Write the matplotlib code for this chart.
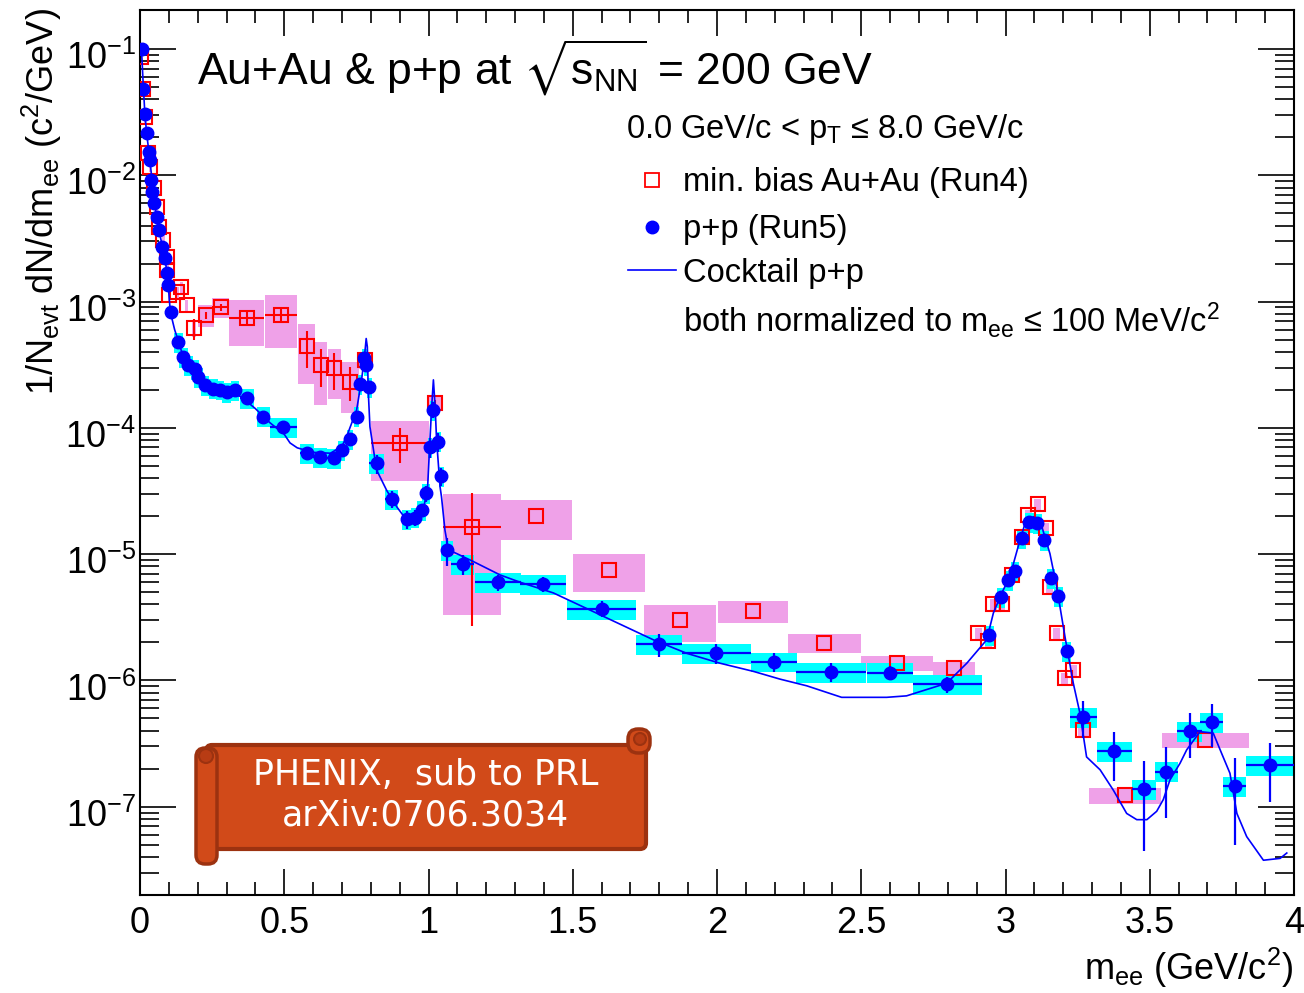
import numpy as np
import matplotlib
matplotlib.use("Agg")
import matplotlib.pyplot as plt
from matplotlib.patches import FancyBboxPatch, Circle
from matplotlib.lines import Line2D
from matplotlib.transforms import ScaledTranslation
from matplotlib.ticker import (FixedLocator, MultipleLocator, FuncFormatter,
                               NullFormatter)

plt.rcParams['font.family'] = ['Liberation Sans', 'DejaVu Sans']
plt.rcParams['mathtext.fontset'] = 'custom'
plt.rcParams['mathtext.rm'] = 'Liberation Sans'
plt.rcParams['mathtext.it'] = 'Liberation Sans:italic'
plt.rcParams['mathtext.bf'] = 'Liberation Sans:bold'
plt.rcParams['mathtext.sf'] = 'Liberation Sans'
plt.rcParams['mathtext.fallback'] = 'stixsans'

# ---------------- p+p (Run5) ----------------
pp_mass = [0.006, 0.012, 0.017, 0.023, 0.031, 0.035, 0.037, 0.043, 0.049, 0.058,
           0.065, 0.075, 0.087, 0.095, 0.098, 0.106, 0.133, 0.150, 0.168, 0.191,
           0.202, 0.225, 0.254, 0.277, 0.300, 0.329, 0.370, 0.427, 0.497, 0.578,
           0.624, 0.672, 0.699, 0.728, 0.751, 0.763, 0.778, 0.784, 0.795, 0.820,
           0.872, 0.924, 0.953, 0.976, 0.991, 1.005, 1.014, 1.034, 1.045, 1.065,
           1.118, 1.240, 1.396, 1.600, 1.800, 1.997, 2.198, 2.395, 2.600, 2.798,
           2.944, 2.985, 3.010, 3.033, 3.056, 3.083, 3.110, 3.135, 3.158, 3.183,
           3.212, 3.270, 3.377, 3.480, 3.557, 3.638, 3.715, 3.794, 3.917]
pp_yield = [1.00e-1, 4.8e-2, 3.06e-2, 2.17e-2, 1.53e-2, 1.32e-2, 9.1e-3, 7.4e-3, 6.0e-3, 4.7e-3,
            3.67e-3, 2.7e-3, 2.2e-3, 1.67e-3, 1.35e-3, 8.3e-4, 4.8e-4, 3.65e-4, 3.13e-4, 2.9e-4,
            2.53e-4, 2.17e-4, 2.05e-4, 2.01e-4, 1.93e-4, 1.98e-4, 1.72e-4, 1.23e-4, 1.02e-4, 6.3e-5,
            5.9e-5, 5.74e-5, 6.65e-5, 8.1e-5, 1.23e-4, 2.22e-4, 3.55e-4, 3.13e-4, 2.09e-4, 5.25e-5,
            2.73e-5, 1.89e-5, 1.95e-5, 2.24e-5, 3.03e-5, 7.07e-5, 1.39e-4, 7.8e-5, 4.13e-5, 1.07e-5,
            8.3e-6, 6.0e-6, 5.8e-6, 3.7e-6, 1.94e-6, 1.66e-6, 1.41e-6, 1.165e-6, 1.155e-6, 9.3e-7,
            2.29e-6, 4.57e-6, 6.27e-6, 7.4e-6, 1.34e-5, 1.81e-5, 1.76e-5, 1.3e-5, 6.45e-6, 4.67e-6,
            1.72e-6, 5.17e-7, 2.76e-7, 1.38e-7, 1.9e-7, 4.0e-7, 4.72e-7, 1.46e-7, 2.15e-7]
pp_stat = [3e-3, 1.5e-3, 1.0e-3, 7e-4, 5e-4, 4e-4, 3e-4, 2.5e-4, 2e-4, 1.5e-4,
           1.2e-4, 1.0e-4, 8e-5, 6e-5, 5e-5, 4e-5, 3e-5, 2.5e-5, 2e-5, 2e-5,
           1.8e-5, 1.6e-5, 1.5e-5, 1.5e-5, 1.5e-5, 1.5e-5, 1.4e-5, 1.1e-5, 9e-6, 6e-6,
           6e-6, 6e-6, 6e-6, 7e-6, 1.1e-5, 2e-5, 3e-5, 3e-5, 2e-5, 9e-6,
           4.2e-6, 3.2e-6, 2.7e-6, 2.7e-6, 4.2e-6, 1.3e-5, 2e-5, 1.3e-5, 6.5e-6, 2.7e-6,
           1.5e-6, 8.5e-7, 7.5e-7, 5.4e-7, 4.1e-7, 3.0e-7, 2.4e-7, 2.0e-7, 1.4e-7, 1.3e-7,
           2e-7, 3e-7, 4e-7, 5e-7, 8e-7, 1.0e-6, 1.0e-6, 8e-7, 4.5e-7, 3.5e-7,
           2e-7, 1.7e-7, 1.15e-7, 9.3e-8, 1.08e-7, 1.57e-7, 1.73e-7, 9.6e-8, 1.05e-7]
pp_halfwidth = [0.004] * 16 + [0.015] * 10 + [0.025, 0.023, 0.047, 0.025, 0.025, 0.025,
                0.012, 0.012] + [0.008] * 5 + [0.025, 0.023] + [0.015] * 4 + [0.008] * 4 + \
               [0.02, 0.04, 0.08, 0.08, 0.12, 0.08, 0.12, 0.08, 0.12, 0.08, 0.12] + \
               [0.015] * 11 + [0.046, 0.06, 0.042, 0.04, 0.042, 0.04, 0.04, 0.083]
pp_sys_rel = [0.10] * 16 + [0.18] * 63

# ---------------- min. bias Au+Au (Run4) ----------------
auau_mass = [0.004, 0.012, 0.017, 0.029, 0.035, 0.049, 0.058, 0.067, 0.081, 0.092,
             0.095, 0.100, 0.128, 0.143, 0.162, 0.187, 0.229, 0.280, 0.370, 0.490,
             0.578, 0.626, 0.674, 0.728, 0.780, 0.900, 1.023, 1.150, 1.373, 1.626,
             1.872, 2.124, 2.372, 2.623, 2.822, 2.906, 2.940, 2.958, 2.987, 3.021,
             3.056, 3.079, 3.111, 3.140, 3.154, 3.177, 3.206, 3.235, 3.270, 3.415, 3.693]
auau_yield = [8.6e-2, 4.8e-2, 2.9e-2, 1.49e-2, 1.17e-2, 7.9e-3, 5.65e-3, 3.9e-3, 3.06e-3, 2.27e-3,
              1.78e-3, 1.13e-3, 1.19e-3, 1.3e-3, 9.4e-4, 6.14e-4, 7.8e-4, 9.0e-4, 7.4e-4, 7.8e-4,
              4.45e-4, 3.14e-4, 2.96e-4, 2.32e-4, 3.45e-4, 7.6e-5, 1.57e-4, 1.65e-5, 2.0e-5, 7.5e-6,
              3.0e-6, 3.57e-6, 1.99e-6, 1.37e-6, 1.26e-6, 2.37e-6, 2.05e-6, 4.05e-6, 4.05e-6, 6.85e-6,
              1.37e-5, 2.04e-5, 2.5e-5, 1.61e-5, 5.46e-6, 2.37e-6, 1.04e-6, 1.21e-6, 4.05e-7, 1.23e-7,
              3.37e-7]
auau_stat = [0.0] * 15 + [1.2e-4, 5e-5, 5e-5, 1.0e-4, 1.0e-4, 1.45e-4, 1.05e-4, 9.5e-5, 7e-5,
             3e-5, 2.3e-5, 1e-5, 1.38e-5] + [0.0] * 23
auau_xerr = [0.0] * 17 + [0.03, 0.06, 0.055] + [0.0] * 5 + [0.1, 0.0, 0.1] + [0.0] * 23
auau_box_halfwidth = [0.004] * 12 + [0.006] * 4 + \
                     [0.029, 0.03, 0.06, 0.055, 0.029, 0.023, 0.024, 0.03, 0.02, 0.1,
                      0.025, 0.1, 0.124, 0.126, 0.124, 0.122, 0.127, 0.124, 0.074] + \
                     [0.012] * 13 + [0.02, 0.125, 0.15]
auau_sys_rel = [0.10] * 15 + [0.15, 0.2, 0.18, 0.4, 0.45, 0.5, 0.52, 0.43, 0.43, 0.15,
                0.5, 0.13, 0.8, 0.35, 0.33, 0.33, 0.2, 0.17, 0.14, 0.12] + \
               [0.10] * 13 + [0.10, 0.15, 0.13]

# ---------------- hadronic cocktail for p+p ----------------
cocktail_mass = [0.005, 0.012, 0.017, 0.023, 0.035, 0.050, 0.065, 0.080, 0.095, 0.105,
                 0.120, 0.135, 0.150, 0.170, 0.200, 0.250, 0.300, 0.350, 0.400, 0.450,
                 0.500, 0.520, 0.545, 0.600, 0.660, 0.700, 0.716, 0.751, 0.768, 0.778,
                 0.784, 0.788, 0.791, 0.797, 0.820, 0.855, 0.890, 0.924, 0.959, 0.982,
                 0.997, 1.005, 1.011, 1.017, 1.023, 1.028, 1.040, 1.045, 1.057, 1.069,
                 1.098, 1.155, 1.248, 1.317, 1.433, 1.606, 1.779, 1.895, 2.010, 2.126,
                 2.218, 2.311, 2.432, 2.588, 2.657, 2.796, 2.866, 2.935, 2.958, 2.987,
                 3.015, 3.044, 3.068, 3.097, 3.126, 3.154, 3.177, 3.206, 3.235, 3.258,
                 3.281, 3.328, 3.374, 3.420, 3.455, 3.490, 3.524, 3.547, 3.570, 3.605,
                 3.628, 3.674, 3.720, 3.749, 3.778, 3.802, 3.836, 3.894, 3.952, 3.975]
cocktail_yield = [1.01e-1, 4.8e-2, 3.06e-2, 2.15e-2, 1.28e-2, 6.0e-3, 3.7e-3, 2.6e-3, 1.65e-3, 8.3e-4,
                  6.0e-4, 4.7e-4, 3.65e-4, 3.02e-4, 2.5e-4, 2.08e-4, 1.93e-4, 1.77e-4, 1.42e-4, 1.1e-4,
                  8.9e-5, 7.6e-5, 6.95e-5, 6.4e-5, 6.3e-5, 7.15e-5, 8.5e-5, 1.39e-4, 2.4e-4, 3.65e-4,
                  5.1e-4, 4.38e-4, 1.99e-4, 1.02e-4, 4.65e-5, 3.2e-5, 2.37e-5, 1.86e-5, 1.91e-5, 2.23e-5,
                  3.42e-5, 8.0e-5, 1.47e-4, 2.4e-4, 1.47e-4, 8.0e-5, 3.42e-5, 2.85e-5, 1.55e-5, 1.08e-5,
                  1.01e-5, 8.75e-6, 6.85e-6, 6.0e-6, 4.93e-6, 3.22e-6, 2.1e-6, 1.64e-6, 1.37e-6, 1.18e-6,
                  1.025e-6, 9.07e-7, 7.35e-7, 7.35e-7, 7.55e-7, 9.5e-7, 1.37e-6, 2.1e-6, 3.42e-6, 4.92e-6,
                  6.65e-6, 1.15e-5, 1.76e-5, 1.98e-5, 1.65e-5, 1.01e-5, 5.57e-6, 2.23e-6, 9.5e-7, 5.5e-7,
                  2.48e-7, 1.96e-7, 1.35e-7, 8.85e-8, 7.9e-8, 7.9e-8, 9.2e-8, 1.14e-7, 1.63e-7, 2.21e-7,
                  2.82e-7, 3.93e-7, 3.83e-7, 2.65e-7, 1.84e-7, 8.85e-8, 5.8e-8, 3.77e-8, 3.9e-8, 4.3e-8]

x_ticks = [0, 0.5, 1, 1.5, 2, 2.5, 3, 3.5, 4]
y_decades = [1e-7, 1e-6, 1e-5, 1e-4, 1e-3, 1e-2, 1e-1]

# ---------------- figure ----------------
W, H = 1304, 993
fig = plt.figure(figsize=(W / 100, H / 100), dpi=100)
fig.patch.set_facecolor('white')
ax = fig.add_axes([140 / W, 1 - 895 / H, 1154 / W, 885 / H])

pink = '#EFA1E8'
cyan = '#00FFFF'

pm, py_, pe = np.array(pp_mass), np.array(pp_yield), np.array(pp_stat)
phw, psr = np.array(pp_halfwidth), np.array(pp_sys_rel)
am, ay, ae = np.array(auau_mass), np.array(auau_yield), np.array(auau_stat)
ax_err, ahw, asr = np.array(auau_xerr), np.array(auau_box_halfwidth), np.array(auau_sys_rel)

# systematic boxes
ax.bar(am, 2 * asr * ay, bottom=ay * (1 - asr), width=2 * ahw, color=pink,
       linewidth=0, zorder=1)
ax.bar(pm, 2 * psr * py_, bottom=py_ * (1 - psr), width=2 * phw, color=cyan,
       linewidth=0, zorder=2)

# Au+Au points
ax.errorbar(am, ay, xerr=ax_err, yerr=ae, fmt='none', ecolor='#FF0000',
            elinewidth=1.5, capsize=0, zorder=3)
ax.plot(am, ay, 's', mfc='none', mec='#FF0000', ms=10.5, mew=1.5, zorder=3)

# cocktail
ax.plot(cocktail_mass, cocktail_yield, color='#0000FF', lw=1.2, zorder=4)

# p+p points
ax.errorbar(pm, py_, xerr=phw, yerr=pe, fmt='none', ecolor='#0000FF',
            elinewidth=1.6, capsize=0, zorder=5)
ax.plot(pm, py_, 'o', color='#0000FF', ms=9, mec='#0000FF', zorder=6)

# axes styling
ax.set_yscale('log')
ax.set_xlim(0, 4)
ax.set_ylim(2.0e-8, 0.2037)
ax.xaxis.set_major_locator(FixedLocator(x_ticks))
ax.xaxis.set_minor_locator(MultipleLocator(0.1))
ax.xaxis.set_major_formatter(FuncFormatter(lambda v, p: f'{v:g}'))
minor_y = [m * d for d in [1e-8] + y_decades[:-1] for m in range(2, 10)
           if 2.0e-8 <= m * d <= 0.2037]
ax.yaxis.set_major_locator(FixedLocator(y_decades))
ax.yaxis.set_minor_locator(FixedLocator(minor_y))
ax.yaxis.set_minor_formatter(NullFormatter())
ax.yaxis.set_major_formatter(
    FuncFormatter(lambda v, p: rf'$10^{{{int(round(np.log10(v)))}}}$'))
ax.tick_params(which='both', direction='in', top=True, right=True, color='black')
ax.tick_params(axis='x', which='major', length=19, width=1.2, labelsize=26, pad=8)
ax.tick_params(axis='x', which='minor', length=9.5, width=1.2)
ax.tick_params(axis='y', which='major', length=26, width=1.2, labelsize=26, pad=3)
ax.tick_params(axis='y', which='minor', length=14, width=1.2)
for s in ax.spines.values():
    s.set_linewidth(1.5)
shift = ScaledTranslation(0, -6 / 100, fig.dpi_scale_trans)
for lab in ax.get_yticklabels():
    lab.set_transform(lab.get_transform() + shift)

# ---------------- overlay in pixel coordinates ----------------
ov = fig.add_axes([0, 0, 1, 1], zorder=10)
ov.set_xlim(0, W)
ov.set_ylim(H, 0)
ov.axis('off')
ov.patch.set_alpha(0)

ov.text(197, 85, r'Au+Au & p+p at $\sqrt{{\rm s}_{\rm NN}}$ = 200 GeV', fontsize=32,
        ha='left', va='baseline')
leg_fs = 23.5
ov.text(626, 138, r'0.0 GeV/c < p$_{\rm T}$ ≤ 8.0 GeV/c', fontsize=leg_fs,
        ha='left', va='baseline')
ov.add_line(Line2D([652], [180], marker='s', mfc='none', mec='#FF0000', ms=10, mew=1.3))
ov.text(683, 191, 'min. bias Au+Au (Run4)', fontsize=leg_fs, ha='left', va='baseline')
ov.add_line(Line2D([652], [227], marker='o', color='#0000FF', ms=9))
ov.text(683, 238, 'p+p (Run5)', fontsize=leg_fs, ha='left', va='baseline')
ov.add_line(Line2D([628, 676], [270, 270], color='#0000FF', lw=1.2))
ov.text(683, 282, 'Cocktail p+p', fontsize=leg_fs, ha='left', va='baseline')
ov.text(683, 332, r'both normalized to m$_{\rm ee}$ ≤ 100 MeV/c$^{2}$', fontsize=leg_fs,
        ha='left', va='baseline')

# axis titles
ov.text(42, 8, r'1/N$_{\rm evt}$ dN/dm$_{\rm ee}$ (c$^{2}$/GeV)', fontsize=26,
        rotation=90, ha='center', va='top')
ov.text(1293, 980, r'm$_{\rm ee}$ (GeV/c$^{2}$)', fontsize=26, ha='right', va='baseline')

# scroll banner
orange = '#D14A19'
dark = '#9C3210'
ov.add_patch(FancyBboxPatch((206, 745), 440, 104,
                            boxstyle='round,pad=0,rounding_size=6',
                            fc=orange, ec=dark, lw=3, zorder=1))
ov.add_patch(FancyBboxPatch((628, 729), 22, 24,
                            boxstyle='round,pad=0,rounding_size=10',
                            fc=orange, ec=dark, lw=2.5, zorder=2))
ov.add_patch(Circle((640, 739), 6, fc='#B83C14', ec=dark, lw=1.5, zorder=3))
ov.add_patch(FancyBboxPatch((196, 748), 21, 116,
                            boxstyle='round,pad=0,rounding_size=9',
                            fc=orange, ec=dark, lw=2.5, zorder=2))
ov.add_patch(Circle((206, 756), 7, fc='#B83C14', ec=dark, lw=1.5, zorder=3))
ov.text(426, 775, 'PHENIX,  sub to PRL', fontsize=25, color='white',
        ha='center', va='center', family=['DejaVu Sans'], zorder=4)
ov.text(426, 815, 'arXiv:0706.3034', fontsize=25, color='white',
        ha='center', va='center', family=['DejaVu Sans'], zorder=4)

fig.savefig('out.png', dpi=100)
